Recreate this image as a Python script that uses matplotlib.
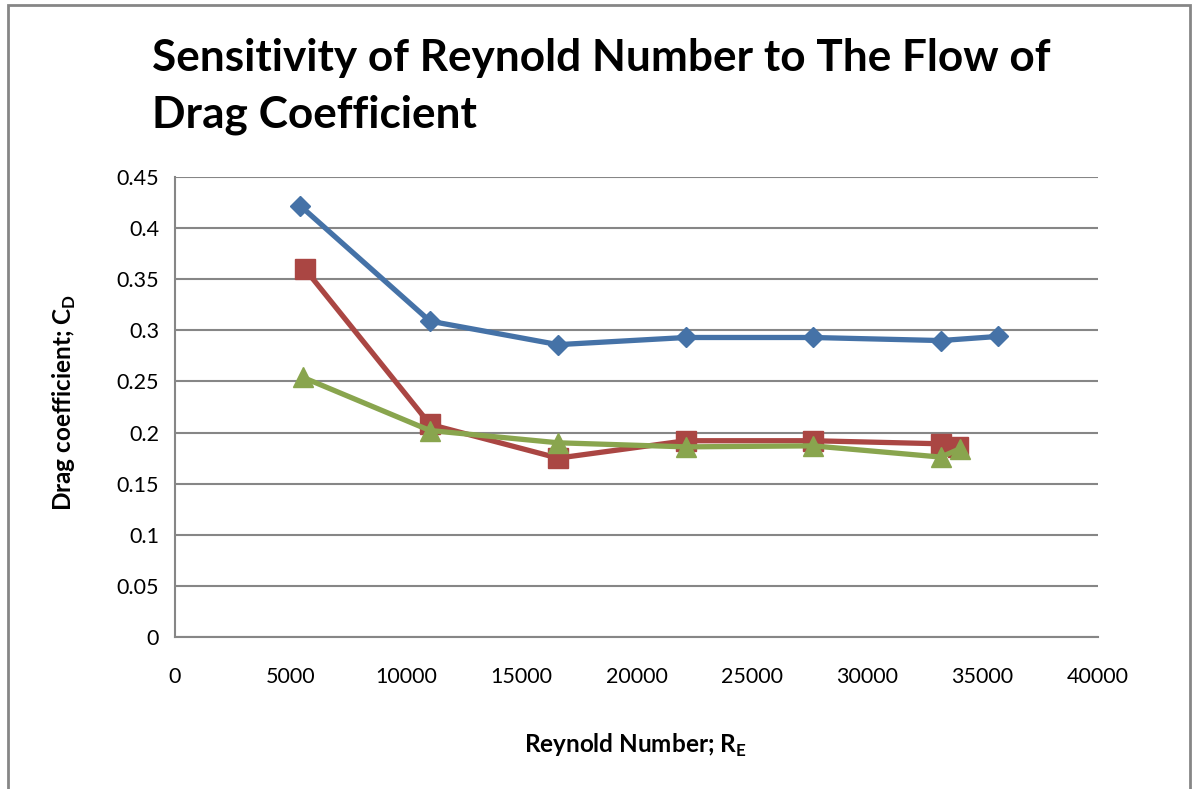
import matplotlib
matplotlib.use("Agg")
import matplotlib.pyplot as plt
from matplotlib.patches import Rectangle

plt.rcParams['font.family'] = ['Lato', 'DejaVu Sans']
plt.rcParams['mathtext.fontset'] = 'custom'
plt.rcParams['mathtext.rm'] = 'Lato'
plt.rcParams['mathtext.bf'] = 'Lato:bold'

# Data
re_blue = [5420, 11050, 16600, 22140, 27640, 33190, 35650]
cd_blue = [0.422, 0.309, 0.286, 0.293, 0.293, 0.290, 0.294]
re_red = [5630, 11050, 16600, 22140, 27640, 33190, 33950]
cd_red = [0.360, 0.208, 0.175, 0.192, 0.192, 0.189, 0.186]
re_green = [5540, 11050, 16600, 22140, 27640, 33190, 34000]
cd_green = [0.254, 0.202, 0.190, 0.186, 0.187, 0.176, 0.184]

x_ticks = [0, 5000, 10000, 15000, 20000, 25000, 30000, 35000, 40000]
y_ticks = [0, 0.05, 0.1, 0.15, 0.2, 0.25, 0.3, 0.35, 0.4, 0.45]
y_tick_labels = ['0', '0.05', '0.1', '0.15', '0.2', '0.25', '0.3', '0.35', '0.4', '0.45']

title = "Sensitivity of Reynold Number to The Flow of\nDrag Coefficient"
xlabel = r"Reynold Number; R$_{\mathbf{E}}$"
ylabel = r"Drag coefficient; C$_{\mathbf{D}}$"

W, H = 1198, 789
fig = plt.figure(figsize=(W / 100, H / 100), dpi=100)
ax = fig.add_axes([175 / W, 1 - 637 / H, (1098 - 175) / W, (637 - 177) / H])

grid_col = '#868686'
ax.set_xlim(0, 40000)
ax.set_ylim(0, 0.45)
ax.set_xticks(x_ticks)
ax.set_yticks(y_ticks)
ax.set_yticklabels(y_tick_labels)
ax.yaxis.grid(True, color=grid_col, linewidth=1.5)
ax.set_axisbelow(True)
for s in ['top', 'right']:
    ax.spines[s].set_visible(False)
for s in ['left', 'bottom']:
    ax.spines[s].set_color(grid_col)
    ax.spines[s].set_linewidth(1.5)
ax.tick_params(axis='both', colors=grid_col, labelcolor='black', labelsize=15.5,
               length=0, width=1.5, direction='out')
ax.tick_params(axis='x', pad=21.5)
ax.tick_params(axis='y', pad=11.5)

ax.plot(re_blue, cd_blue, color='#4572A7', linewidth=3.8, marker='D', markersize=10.5,
        solid_joinstyle='round', zorder=3)
ax.plot(re_red, cd_red, color='#AA4643', linewidth=3.8, marker='s', markersize=14,
        solid_joinstyle='round', zorder=3)
ax.plot(re_green, cd_green, color='#89A54E', linewidth=3.8, marker='^', markersize=14,
        solid_joinstyle='round', zorder=4)

fig.text(152 / W, 1 - 38 / H, title, fontsize=31.8, fontweight='bold', ha='left', va='top',
         linespacing=1.5)
fig.text(635 / W, 1 - 745 / H, xlabel, fontsize=17.5, fontweight='bold', ha='center', va='center')
fig.text(64 / W, 1 - 402 / H, ylabel, fontsize=17.5, fontweight='bold', ha='center', va='center',
         rotation=90)

fig.patches.append(Rectangle((8 / W, -0.05), (1190 - 8) / W, 1.05 - 5 / H,
                             transform=fig.transFigure, fill=False,
                             edgecolor='#868686', linewidth=2))

fig.savefig('out.png', dpi=100)
